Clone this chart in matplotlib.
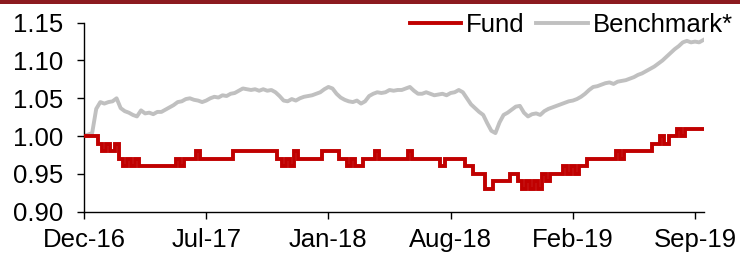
import matplotlib
matplotlib.use("Agg")
import matplotlib.pyplot as plt
from matplotlib.patches import Rectangle

plt.rcParams['font.family'] = ['Liberation Sans', 'DejaVu Sans']

# weekly observations (index = week number since Dec-16)
benchmark = [
    1.000, 1.002, 1.004, 1.036, 1.045, 1.043, 1.045, 1.046, 1.050, 1.037,
    1.033, 1.031, 1.028, 1.026, 1.034, 1.030, 1.031, 1.029, 1.032, 1.032,
    1.035, 1.038, 1.041, 1.045, 1.046, 1.049, 1.050, 1.048, 1.047, 1.045,
    1.047, 1.050, 1.052, 1.051, 1.054, 1.053, 1.056, 1.057, 1.060, 1.063,
    1.062, 1.061, 1.062, 1.060, 1.062, 1.060, 1.061, 1.058, 1.053, 1.047,
    1.046, 1.049, 1.047, 1.050, 1.052, 1.053, 1.054, 1.056, 1.058, 1.062,
    1.065, 1.063, 1.056, 1.051, 1.048, 1.046, 1.045, 1.047, 1.043, 1.046,
    1.053, 1.056, 1.058, 1.057, 1.058, 1.061, 1.060, 1.061, 1.061, 1.063,
    1.065, 1.060, 1.056, 1.056, 1.058, 1.056, 1.054, 1.055, 1.056, 1.054,
    1.057, 1.058, 1.061, 1.058, 1.050, 1.042, 1.037, 1.032, 1.028, 1.017,
    1.007, 1.004, 1.018, 1.028, 1.031, 1.035, 1.039, 1.040, 1.031, 1.026,
    1.029, 1.030, 1.028, 1.033, 1.036, 1.038, 1.040, 1.042, 1.044, 1.046,
    1.047, 1.049, 1.052, 1.056, 1.061, 1.065, 1.066, 1.068, 1.070, 1.071,
    1.069, 1.072, 1.073, 1.074, 1.076, 1.078, 1.081, 1.083, 1.086, 1.089,
    1.092, 1.096, 1.100, 1.105, 1.110, 1.115, 1.119, 1.124, 1.126, 1.124,
    1.125, 1.124, 1.127,
]

fund = [
    1.00, 1.00, 1.00, 1.00, 0.99, 0.98, 0.99, 0.98, 0.99, 0.97,
    0.96, 0.97, 0.96, 0.97, 0.96, 0.96, 0.96, 0.96, 0.96, 0.96,
    0.96, 0.96, 0.96, 0.97, 0.96, 0.97, 0.97, 0.97, 0.98, 0.97,
    0.97, 0.97, 0.97, 0.97, 0.97, 0.97, 0.97, 0.98, 0.98, 0.98,
    0.98, 0.98, 0.98, 0.98, 0.98, 0.98, 0.98, 0.98, 0.97, 0.96,
    0.97, 0.96, 0.98, 0.97, 0.97, 0.97, 0.97, 0.97, 0.97, 0.98,
    0.98, 0.98, 0.98, 0.97, 0.97, 0.96, 0.97, 0.96, 0.96, 0.97,
    0.97, 0.97, 0.98, 0.97, 0.97, 0.97, 0.97, 0.97, 0.97, 0.97,
    0.98, 0.97, 0.97, 0.97, 0.97, 0.97, 0.97, 0.97, 0.96, 0.97,
    0.97, 0.97, 0.97, 0.97, 0.96, 0.96, 0.95, 0.95, 0.95, 0.93,
    0.93, 0.94, 0.94, 0.94, 0.94, 0.95, 0.95, 0.94, 0.93, 0.94,
    0.93, 0.94, 0.93, 0.95, 0.94, 0.95, 0.95, 0.95, 0.96, 0.95,
    0.96, 0.95, 0.96, 0.96, 0.97, 0.97, 0.97, 0.97, 0.97, 0.97,
    0.97, 0.98, 0.97, 0.98, 0.98, 0.98, 0.98, 0.98, 0.98, 0.98,
    0.99, 0.99, 1.00, 0.99, 1.00, 1.00, 1.01, 1.00, 1.01, 1.01,
    1.01, 1.01, 1.01,
]

tick_labels = ["Dec-16", "Jul-17", "Jan-18", "Aug-18", "Feb-19", "Sep-19"]
tick_step = 30
y_ticks = [0.90, 0.95, 1.00, 1.05, 1.10, 1.15]

W, H = 740, 254
FS = 18.5
fig = plt.figure(figsize=(W / 100, H / 100), dpi=100)
ax = fig.add_axes([84 / W, 1 - 211.7 / H, (704 - 84) / W, (211.7 - 22.7) / H])

weeks = list(range(len(benchmark)))
ax.plot(weeks, fund, color='#C00000', lw=2.8, label='Fund',
        drawstyle='steps-mid', solid_joinstyle='miter', zorder=3)
ax.plot(weeks, benchmark, color='#C0C0C0', lw=2.8, label='Benchmark*', zorder=2)

ax.set_xlim(0, 152.2)
ax.set_ylim(0.90, 1.15)
ax.set_yticks(y_ticks)
ax.set_yticklabels([f"{v:.2f}" for v in y_ticks])
ax.set_xticks([i * tick_step for i in range(len(tick_labels))])
ax.set_xticklabels(tick_labels)

for s in ['top', 'right']:
    ax.spines[s].set_visible(False)
for s in ['left', 'bottom']:
    ax.spines[s].set_linewidth(1.0)
    ax.spines[s].set_color('black')
ax.tick_params(axis='both', direction='out', length=5, width=1.0,
               labelsize=FS, colors='black')
ax.tick_params(axis='y', pad=10)
ax.tick_params(axis='x', pad=7)

leg = ax.legend(loc='center right', bbox_to_anchor=(733 / W, 1 - 25 / H),
                bbox_transform=fig.transFigure, ncol=2, frameon=False,
                fontsize=FS, handlelength=2.0, handletextpad=0.2,
                columnspacing=0.45, borderpad=0, borderaxespad=0)

fig.patches.append(Rectangle((0, 1 - 3.5 / H), 1, 3.5 / H, transform=fig.transFigure,
                             facecolor='#8C1A1F', edgecolor='none'))

fig.savefig('out.png', dpi=100)
